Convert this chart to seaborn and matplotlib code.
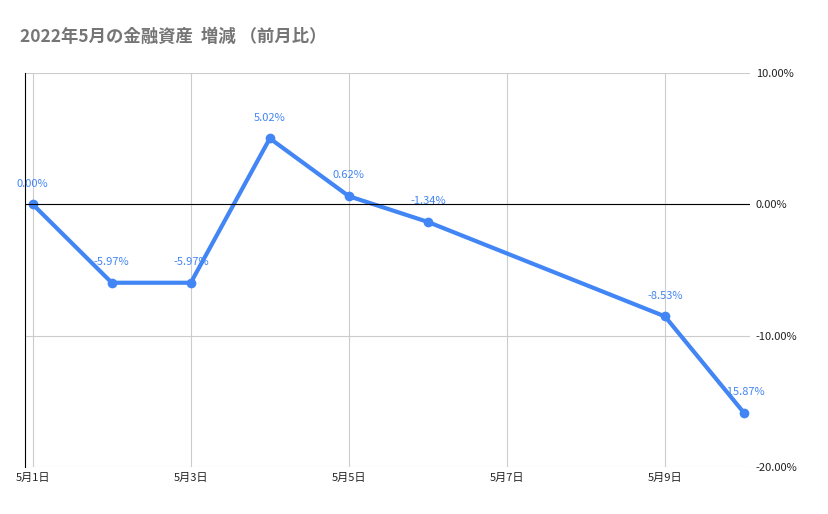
import matplotlib
matplotlib.use("Agg")
import matplotlib.pyplot as plt
import seaborn as sns
import pandas as pd

days = [1, 2, 3, 4, 5, 6, 9, 10]
values = [0.00, -5.97, -5.97, 5.02, 0.62, -1.34, -8.53, -15.87]
labels = ["0.00%", "-5.97%", "-5.97%", "5.02%", "0.62%", "-1.34%", "-8.53%", "-15.87%"]
tick_days = [1, 3, 5, 7, 9]
tick_labels = ["5月1日", "5月3日", "5月5日", "5月7日", "5月9日"]
y_ticks = [10, 0, -10, -20]

sns.set_theme(style="white")
plt.rcParams['font.family'] = ['Noto Sans CJK JP', 'DejaVu Sans']

fig = plt.figure(figsize=(8.29, 5.14), dpi=100)
ax = fig.add_axes([0.030, 0.0914, 0.875, 0.7666])
df = pd.DataFrame({"day": days, "v": values})
c = "#4285f4"
sns.lineplot(data=df, x="day", y="v", ax=ax, color=c, lw=3, marker="o",
             markersize=7, markeredgewidth=0)
for d, v, t in zip(days, values, labels):
    ax.text(d, v + 1.2, t, color=c, fontsize=8, ha="center", va="bottom")
ax.set_xlim(0.9, 10.08)
ax.set_ylim(-20, 10)
ax.set_xticks(tick_days)
ax.set_xticklabels(tick_labels, fontsize=8, color="#222222")
ax.set_yticks(y_ticks)
ax.set_yticklabels([f"{t:.2f}%" for t in y_ticks], fontsize=8, color="#222222")
ax.yaxis.tick_right()
ax.tick_params(length=0, pad=4)
ax.grid(True, color="#cccccc", lw=0.8)
ax.axhline(0, color="black", lw=0.8)
for s in ["top", "right", "bottom"]:
    ax.spines[s].set_visible(False)
ax.spines["left"].set_color("black")
ax.spines["left"].set_linewidth(0.8)
ax.set_xlabel("")
ax.set_ylabel("")
fig.text(0.024, 0.928, "2022年5月の金融資産  増減 （前月比）", fontsize=12.5,
         fontweight="bold", color="#757575", va="center")
fig.savefig("out.png", dpi=100)
